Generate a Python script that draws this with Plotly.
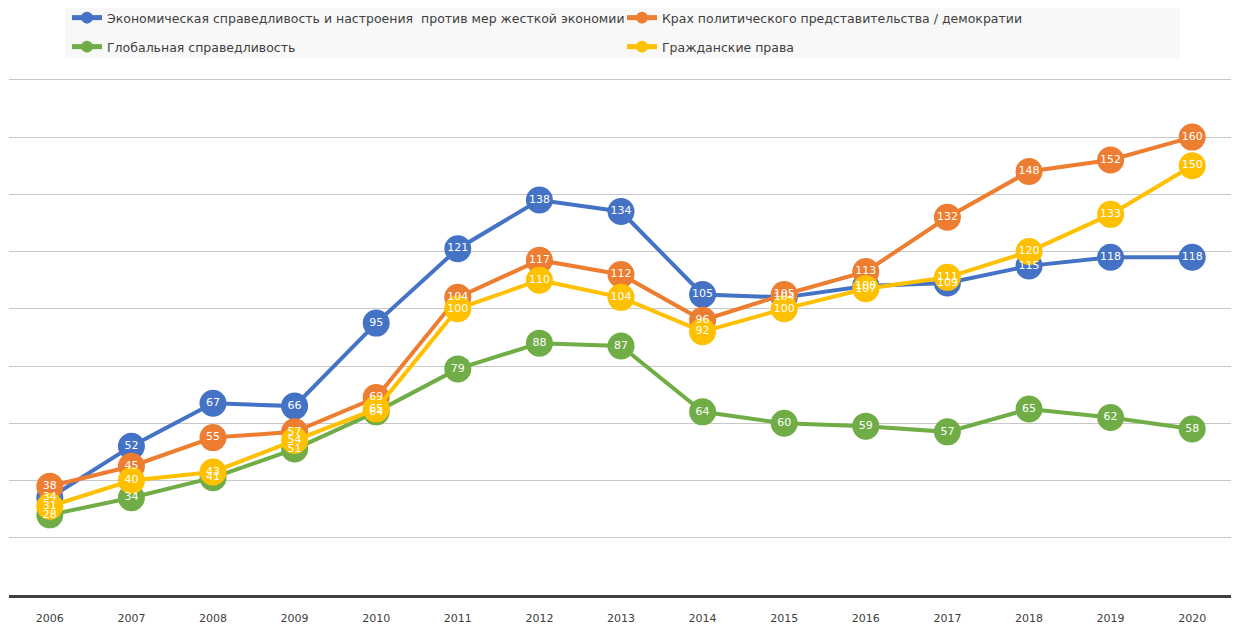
import plotly.graph_objects as go

years = [str(y) for y in range(2006, 2021)]

econ = [34, 52, 67, 66, 95, 121, 138, 134, 105, 104, 108, 109, 115, 118, 118]
democracy = [38, 45, 55, 57, 69, 104, 117, 112, 96, 105, 113, 132, 148, 152, 160]
global_justice = [28, 34, 41, 51, 64, 79, 88, 87, 64, 60, 59, 57, 65, 62, 58]
civil_rights = [31, 40, 43, 54, 65, 100, 110, 104, 92, 100, 107, 111, 120, 133, 150]

names = [
    "Экономическая справедливость и настроения  против мер жесткой экономии",
    "Крах политического представительства / демократии",
    "Глобальная справедливость",
    "Гражданские права",
]
series = [econ, democracy, global_justice, civil_rights]
colors = ["#4472C4", "#ED7D31", "#70AD47", "#FFC000"]
legend_ids = ["legend", "legend", "legend2", "legend2"]

W, H = 1231, 618
ML, MR, MT, MB = 1, 6, 69, 31

fig = go.Figure()
for name, vals, col, lg in zip(names, series, colors, legend_ids):
    fig.add_trace(go.Scatter(
        x=years, y=vals, name=name, mode="lines+markers",
        line=dict(color=col, width=4),
        marker=dict(color=col, size=27),
        legend=lg, hoverinfo="skip",
    ))
for name, vals, col in zip(names, series, colors):
    fig.add_trace(go.Scatter(
        x=years, y=vals, mode="text", text=[str(v) for v in vals],
        textposition="middle center",
        textfont=dict(color="white", size=11, family="DejaVu Sans"),
        showlegend=False, hoverinfo="skip",
    ))

legend_common = dict(
    orientation="h", xref="container", x=59 / W, xanchor="left",
    yref="container", yanchor="middle",
    bgcolor="rgba(0,0,0,0)", entrywidth=510, entrywidthmode="pixels",
    font=dict(size=12.5, color="#404040", family="DejaVu Sans"),
    itemsizing="constant",
)

# background box behind both legend rows (pixel box converted to paper coords)
plot_w = W - ML - MR
plot_h = H - MT - MB
bx0, bx1, by0, by1 = 57, 1172, -5, 50
fig.add_shape(
    type="rect", xref="paper", yref="paper", layer="below",
    x0=(bx0 - ML) / plot_w, x1=(bx1 - ML) / plot_w,
    y0=(H - MB - by1) / plot_h, y1=(H - MB - by0) / plot_h,
    fillcolor="#f8f8f8", line=dict(width=0),
)

fig.update_layout(
    width=W, height=H,
    margin=dict(l=ML, r=MR, t=MT, b=MB),
    paper_bgcolor="white", plot_bgcolor="white",
    font=dict(family="DejaVu Sans", color="#595959", size=12),
    showlegend=True,
    legend=dict(legend_common, y=1 - 10 / H),
    legend2=dict(legend_common, y=1 - 39 / H),
    xaxis=dict(
        type="category", range=[-0.5, 14.5], showgrid=False,
        showline=True, linecolor="#404040", linewidth=3,
        tickfont=dict(size=11, color="#404040"), ticks="", ticklabelstandoff=11,
    ),
    yaxis=dict(
        range=[0, 181], tickvals=[20, 40, 60, 80, 100, 120, 140, 160, 180],
        showgrid=True, gridcolor="#c8c8c8", gridwidth=1,
        showticklabels=False, zeroline=False, showline=False,
    ),
)

fig.write_html("out.html")
